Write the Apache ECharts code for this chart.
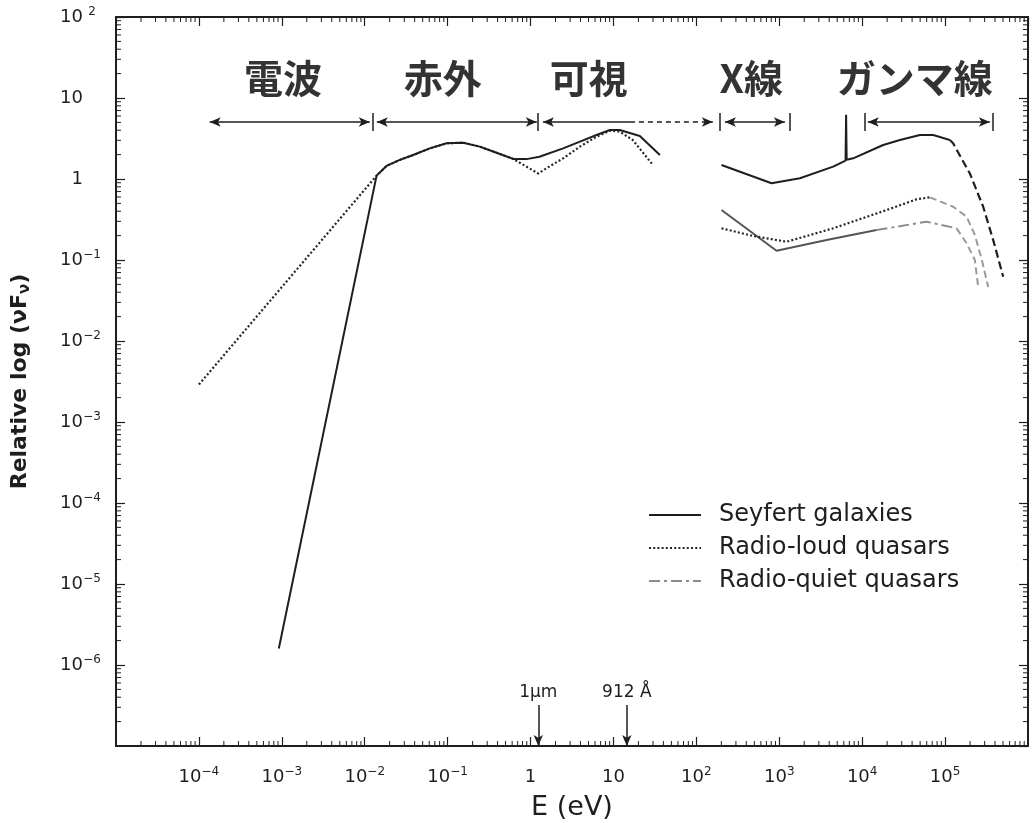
<!DOCTYPE html>
<html><head><meta charset="utf-8">
<script src="https://cdn.jsdelivr.net/npm/echarts@6.0.0/dist/echarts.min.js"></script>
<style>html,body{margin:0;padding:0;background:#fff}#c{width:1033px;height:823px}</style>
</head><body><div id="c"></div>
<script>
// ---------------- data (energy E in eV, relative νFν) ----------------
const seriesNames = ['Seyfert galaxies', 'Radio-loud quasars', 'Radio-quiet quasars'];

// Seyfert galaxies: radio→UV part, X/gamma part, extrapolated cutoff
const seyfertIR_E = [9.2e-4, 0.0139, 0.0183, 0.0265, 0.0384, 0.061, 0.097, 0.154, 0.244, 0.389, 0.617, 0.895, 1.28, 2.47, 3.94, 6.25, 9.06, 11.9, 20.8, 36.3];
const seyfertIR_F = [1.6e-6, 1.1, 1.45, 1.72, 1.98, 2.39, 2.76, 2.81, 2.51, 2.11, 1.77, 1.76, 1.88, 2.39, 2.89, 3.49, 4.03, 4.03, 3.40, 1.98];
const seyfertX_E = [201, 807, 1774, 4467, 6300, 6400, 6500, 7786, 17900, 28500, 49700, 71900, 114000];
const seyfertX_F = [1.49, 0.885, 1.02, 1.42, 1.69, 6.2, 1.73, 1.80, 2.63, 3.03, 3.49, 3.49, 3.03];
const seyfertExt_E = [114000, 125000, 199000, 288000, 380000, 502000];
const seyfertExt_F = [3.03, 2.76, 1.17, 0.455, 0.177, 0.0622];

// Radio-loud quasars
const loudIR_E = [1.0e-4, 0.0139, 0.0183, 0.0265, 0.0384, 0.061, 0.097, 0.154, 0.244, 0.389, 0.617, 1.24, 1.56, 2.47, 3.94, 6.25, 9.06, 11.9, 17.1, 29.9];
const loudIR_F = [2.9e-3, 1.1, 1.45, 1.72, 1.98, 2.39, 2.76, 2.81, 2.51, 2.11, 1.77, 1.17, 1.36, 1.80, 2.51, 3.33, 3.95, 3.84, 3.03, 1.49];
const loudX_E = [201, 484, 1225, 4467, 19700, 45300, 65600];
const loudX_F = [0.246, 0.198, 0.168, 0.246, 0.414, 0.561, 0.594];
const loudExt_E = [65600, 125000, 181600, 228600, 277800, 331000];
const loudExt_F = [0.594, 0.455, 0.343, 0.204, 0.1, 0.0464];

// Radio-quiet quasars
const quietSolid_E = [201, 927, 3720, 14900];
const quietSolid_F = [0.414, 0.130, 0.177, 0.234];
const quiet_E = [14900, 59800, 137700];
const quiet_F = [0.234, 0.297, 0.246];
const quietExt_E = [137700, 181600, 228600, 250600];
const quietExt_F = [0.246, 0.161, 0.1, 0.0464];

// Band annotations
const bandNames = ['電波', '赤外', '可視', 'X線', 'ガンマ線'];
const bandLabelE = [1.03e-3, 0.0875, 5.05, 460, 43200];
const bandLabelF = 17.7;
const bandArrowFrom = [1.35e-4, 0.0140, 1.41, 221, 11700];
const bandArrowTo = [0.0115, 1.19, 158, 1169, 347000];
const bandArrowF = 5.06;
const visibleDashFrom = 15.8;
const bandEdgeE = [0.0126, 1.23, 192, 1343, 10800, 377000];
const bandEdgeF = [3.92, 6.53];

// Wavelength markers on the energy axis
const markerNames = ['1μm', '912 Å'];
const markerE = [1.24, 14.5];
const markerF = [3.2e-7, 1.0e-7];

// Axis ranges
const xMin = 1e-5, xMax = 1e6, yMin = 1e-7, yMax = 1e2;

// ---------------- helpers ----------------
function pairs(E, F) { return E.map((e, i) => [e, F[i]]); }
function joinSegs(a, b) { return a.concat(['-'], b); }
function expLabel(v, pad) {
  const e = Math.round(Math.log10(v));
  if (e === 0) return '{b|1}' + (pad ? '{s| }' : '');
  if (e === 1) return '{b|10}' + (pad ? '{s| }' : '');
  return '{b|10}{s|' + (e < 0 ? '\u2212' + (-e) : e) + '}';
}

const INK = '#1e1e1e';
const FONT = 'DejaVu Sans';

const arrowLines = [];
bandArrowFrom.forEach((e1, i) => {
  const e2 = bandArrowTo[i];
  if (bandNames[i] === '可視') {
    arrowLines.push([{ coord: [e1, bandArrowF], symbol: 'arrow' }, { coord: [visibleDashFrom, bandArrowF], symbol: 'none' }]);
    arrowLines.push([{ coord: [visibleDashFrom, bandArrowF], symbol: 'none', lineStyle: { type: [5, 4] } },
                     { coord: [e2, bandArrowF], symbol: 'arrow', lineStyle: { type: [5, 4] } }]);
  } else {
    arrowLines.push([{ coord: [e1, bandArrowF], symbol: 'arrow' }, { coord: [e2, bandArrowF], symbol: 'arrow' }]);
  }
});
bandEdgeE.forEach(e => {
  arrowLines.push([{ coord: [e, bandEdgeF[0]], symbol: 'none' }, { coord: [e, bandEdgeF[1]], symbol: 'none' }]);
});
markerE.forEach((e, i) => {
  arrowLines.push([
    { coord: [e, markerF[0]], symbol: 'none', label: { show: true, position: 'start', formatter: markerNames[i], distance: 4, fontSize: 17, color: INK, fontFamily: FONT } },
    { coord: [e, markerF[1]], symbol: 'arrow' }
  ]);
});

const lineBase = { type: 'line', symbol: 'none', showSymbol: false, silent: true, animation: false, connectNulls: false };

const axisCommonX = {
  type: 'log', logBase: 10, min: xMin, max: xMax, interval: 1,
  splitLine: { show: false },
  axisLine: { show: true, lineStyle: { color: INK, width: 2 } },
  axisTick: { show: true, inside: true, length: 9, lineStyle: { color: INK, width: 1.2 } }
};
const axisCommonY = {
  type: 'log', logBase: 10, min: yMin, max: yMax, interval: 1,
  splitLine: { show: false },
  axisLine: { show: true, lineStyle: { color: INK, width: 2 } },
  axisTick: { show: true, inside: true, length: 9, lineStyle: { color: INK, width: 1.2 } }
};

const labelRich = {
  b: { fontSize: 18, lineHeight: 22, color: INK, fontFamily: FONT, verticalAlign: 'middle' },
  s: { fontSize: 12, lineHeight: 12, color: INK, fontFamily: FONT, verticalAlign: 'top' }
};
const labelRichY = {
  b: labelRich.b,
  s: Object.assign({}, labelRich.s, { width: 18, align: 'left' })
};

const option = {
  backgroundColor: '#fff',
  animation: false,
  textStyle: { fontFamily: FONT, color: INK },
  grid: { left: 116, right: 5, top: 17, bottom: 77, containLabel: false, outerBoundsMode: 'none' },
  legend: {
    data: seriesNames,
    orient: 'vertical', left: 648, top: 503, padding: 0,
    itemWidth: 52, itemHeight: 14, itemGap: 9,
    itemStyle: { opacity: 0 },
    textStyle: { fontSize: 24, color: INK, fontFamily: FONT, lineHeight: 24, padding: [0, 0, 0, 13] },
    selectedMode: false
  },
  xAxis: [
    Object.assign({}, axisCommonX, {
      position: 'bottom',
      name: 'E (eV)', nameLocation: 'middle', nameGap: 48,
      nameTextStyle: { fontSize: 27, color: INK, fontFamily: FONT },
      axisLabel: { show: true, margin: 20, showMinLabel: false, showMaxLabel: false,
        formatter: v => expLabel(v, false), rich: labelRich }
    }),
    Object.assign({}, axisCommonX, { position: 'top', axisLabel: { show: false } })
  ],
  yAxis: [
    Object.assign({}, axisCommonY, {
      position: 'left',
      name: '{a|Relative log (νF}{sub|ν}{a|)}', nameLocation: 'middle', nameGap: 83,
      nameTextStyle: { rich: {
        a: { fontSize: 22, fontWeight: 'bold', fontFamily: FONT, color: INK, lineHeight: 26 },
        sub: { fontSize: 15, fontWeight: 'bold', fontFamily: FONT, color: INK, lineHeight: 15, verticalAlign: 'bottom' }
      } },
      axisLabel: { show: true, margin: 15, showMinLabel: false, showMaxLabel: true,
        formatter: v => expLabel(v, true), rich: labelRichY }
    }),
    Object.assign({}, axisCommonY, { position: 'right', axisLabel: { show: false } })
  ],
  series: [
    Object.assign({}, lineBase, {
      name: seriesNames[0], z: 5,
      data: joinSegs(pairs(seyfertIR_E, seyfertIR_F), pairs(seyfertX_E, seyfertX_F)),
      lineStyle: { color: INK, width: 2, type: 'solid' }, itemStyle: { color: INK }
    }),
    Object.assign({}, lineBase, {
      name: seriesNames[1], z: 4,
      data: joinSegs(pairs(loudIR_E, loudIR_F), pairs(loudX_E, loudX_F)),
      lineStyle: { color: '#262626', width: 2.2, type: [2, 2.2] }, itemStyle: { color: '#262626' }
    }),
    Object.assign({}, lineBase, {
      name: seriesNames[2], z: 3,
      data: pairs(quiet_E, quiet_F),
      lineStyle: { color: '#8c8c8c', width: 2, type: [11, 4, 3, 4] }, itemStyle: { color: '#8c8c8c' }
    }),
    Object.assign({}, lineBase, {
      name: 'Seyfert cutoff', data: pairs(seyfertExt_E, seyfertExt_F),
      lineStyle: { color: INK, width: 2.2, type: [8, 4] }
    }),
    Object.assign({}, lineBase, {
      name: 'Radio-loud cutoff', data: pairs(loudExt_E, loudExt_F),
      lineStyle: { color: '#9a9a9a', width: 2, type: [7, 4] }
    }),
    Object.assign({}, lineBase, {
      name: 'Radio-quiet X', data: pairs(quietSolid_E, quietSolid_F),
      lineStyle: { color: '#555', width: 2, type: 'solid' }
    }),
    Object.assign({}, lineBase, {
      name: 'Radio-quiet cutoff', data: pairs(quietExt_E, quietExt_F),
      lineStyle: { color: '#9a9a9a', width: 2, type: [7, 4] }
    }),
    // band arrows, band edges and wavelength markers
    Object.assign({}, lineBase, {
      name: 'annotations', data: [],
      markLine: {
        silent: true, animation: false, symbolSize: [7, 11], precision: 10,
        label: { show: false },
        lineStyle: { color: INK, width: 1.5, type: 'solid' },
        data: arrowLines
      }
    }),
    // band names
    {
      type: 'scatter', name: 'bands', silent: true, animation: false, symbolSize: 1,
      itemStyle: { color: 'rgba(0,0,0,0)' },
      label: { show: true, position: 'inside', formatter: p => p.name,
        fontSize: 39, fontWeight: 'bold', color: '#000', fontFamily: 'Noto Sans CJK JP' },
      data: bandNames.map((n, i) => ({ name: n, value: [bandLabelE[i], bandLabelF] }))
    },
    // minor (2..9) log ticks on all four sides of the frame
    {
      type: 'custom', name: 'minorTicks', silent: true, animation: false, clip: false,
      data: [[1, 1]],
      renderItem: function (params, api) {
        const bl = api.coord([xMin, yMin]), tr = api.coord([xMax, yMax]);
        const L = bl[0], B = bl[1], R = tr[0], T = tr[1], len = 5;
        const ch = [];
        const st = { stroke: INK, lineWidth: 1 };
        for (let k = -5; k < 6; k++) for (let m = 2; m <= 9; m++) {
          const x = api.coord([m * Math.pow(10, k), yMin])[0];
          ch.push({ type: 'line', shape: { x1: x, y1: B, x2: x, y2: B - len }, style: st });
          ch.push({ type: 'line', shape: { x1: x, y1: T, x2: x, y2: T + len }, style: st });
        }
        for (let k = -7; k < 2; k++) for (let m = 2; m <= 9; m++) {
          const y = api.coord([xMin, m * Math.pow(10, k)])[1];
          ch.push({ type: 'line', shape: { x1: L, y1: y, x2: L + len, y2: y }, style: st });
          ch.push({ type: 'line', shape: { x1: R, y1: y, x2: R - len, y2: y }, style: st });
        }
        return { type: 'group', children: ch };
      }
    }
  ]
};

const chart = echarts.init(document.getElementById('c'), null, { renderer: 'canvas' });
chart.setOption(option);
</script>
</body></html>
